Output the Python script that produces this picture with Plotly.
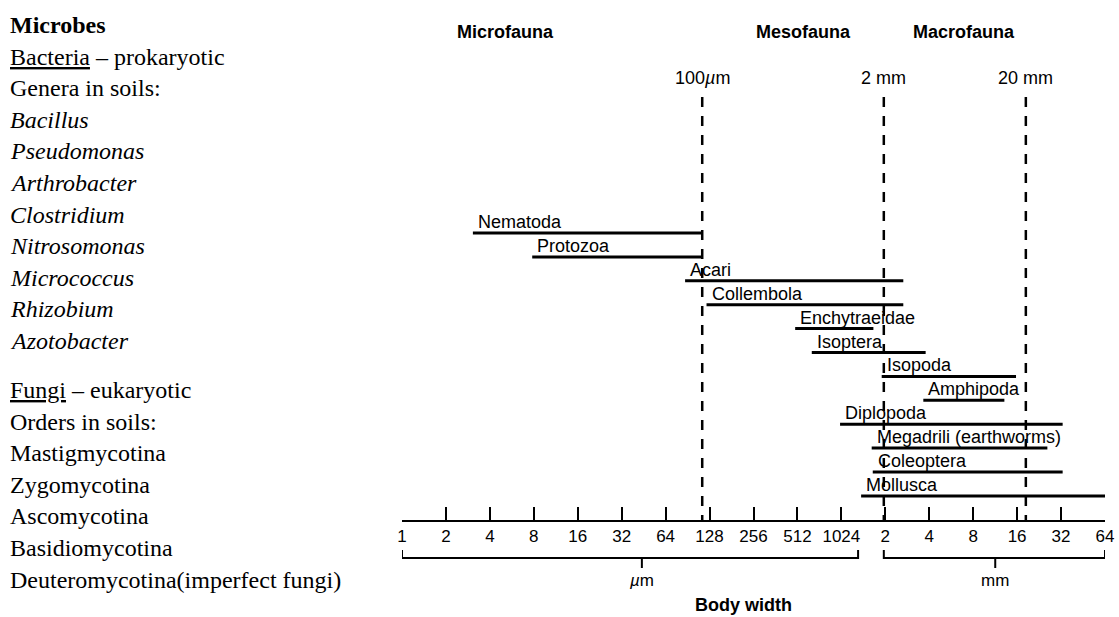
import numpy as np
import plotly.graph_objects as go

# body-width ranges of soil fauna (in µm)
groups = ['Nematoda', 'Protozoa', 'Acari', 'Collembola', 'Enchytraeidae', 'Isoptera',
          'Isopoda', 'Amphipoda', 'Diplopoda', 'Megadrili (earthworms)', 'Coleoptera', 'Mollusca']
width_min = [3.06, 7.8, 87, 122, 494, 642, 1935, 3730, 1003, 1652, 1680, 1398]
width_max = [115, 115, 2720, 2720, 1697, 3870, 16100, 13400, 33600, 26400, 33600, 68000]

# size-class boundaries and class names
boundary_um = [114, 2000, 18800]
boundary_text = ['100<i>µ</i>m', '2 mm', '20 mm']
zone_names = ['Microfauna', 'Mesofauna', 'Macrofauna']
zone_center_um = [5.1, 560, 7080]

# log2 axis ticks
tick_vals = [2 ** k for k in range(17)]
tick_text = ['1', '2', '4', '8', '16', '32', '64', '128', '256', '512', '1024',
             '2', '4', '8', '16', '32', '64']

# unit brackets under the axis: [start, end, middle tick]
unit_names = ['<i>µ</i>m', 'mm']
unit_start = [1, 2000]
unit_end = [1333, 65536]
unit_mid = [44, 11600]

# text column on the left
left_lines = ['<b>Microbes</b>', '<u>Bacteria</u> – prokaryotic', 'Genera in soils:',
              '<i>Bacillus</i>', '<i>Pseudomonas</i>', '<i>Arthrobacter</i>', '<i>Clostridium</i>',
              '<i>Nitrosomonas</i>', '<i>Micrococcus</i>', '<i>Rhizobium</i>', '<i>Azotobacter</i>',
              '<u>Fungi</u> – eukaryotic', 'Orders in soils:', 'Mastigmycotina', 'Zygomycotina',
              'Ascomycotina', 'Basidiomycotina', 'Deuteromycotina(imperfect fungi)']

W, H = 1119, 617
L, R = 402, 14
SANS = 'Liberation Sans, Arial, sans-serif'
SERIF = 'Liberation Serif, Times New Roman, serif'

# y axis in "row" units: row 0 = first bar, 23.9 px per row
ROW0, ROWPX = 233, 23.9
def prow(p):
    return (p - ROW0) / ROWPX

fig = go.Figure()

# bars
bx, by = [], []
for i in range(len(groups)):
    bx += [width_min[i], width_max[i], None]
    by += [i, i, None]
fig.add_trace(go.Scatter(x=bx, y=by, mode='lines', line=dict(color='black', width=3),
                         hoverinfo='skip'))

# dashed boundaries
dx, dy = [], []
for b in boundary_um:
    dx += [b, b, None]
    dy += [prow(97), prow(521), None]
fig.add_trace(go.Scatter(x=dx, y=dy, mode='lines',
                         line=dict(color='black', width=2.5, dash='10px,9px'), hoverinfo='skip'))

# unit brackets
ux, uy = [], []
for s, e, m in zip(unit_start, unit_end, unit_mid):
    ux += [s, s, e, e, None, m, m, None]
    uy += [prow(550), prow(558), prow(558), prow(550), None, prow(558), prow(568), None]
fig.add_trace(go.Scatter(x=ux, y=uy, mode='lines', line=dict(color='black', width=2),
                         hoverinfo='skip'))

ann = []
for i, g in enumerate(groups):
    ann.append(dict(x=np.log10(width_min[i]), y=i, text=g, xanchor='left', yanchor='middle',
                    xshift=3, yshift=11, showarrow=False, font=dict(family=SANS, size=18)))
for b, t in zip(boundary_um, boundary_text):
    ann.append(dict(x=np.log10(b), y=prow(78), text=t, xanchor='center', yanchor='middle',
                    showarrow=False, font=dict(family=SANS, size=18)))
for z, c in zip(zone_names, zone_center_um):
    ann.append(dict(x=np.log10(c), y=prow(32), text='<b>' + z + '</b>', xanchor='center',
                    yanchor='middle', showarrow=False, font=dict(family=SANS, size=18)))
for n, m in zip(unit_names, unit_mid):
    ann.append(dict(x=np.log10(m), y=prow(580), text=n, xanchor='center', yanchor='middle',
                    showarrow=False, font=dict(family=SANS, size=17)))
ann.append(dict(x=np.log10(220), y=prow(605), text='<b>Body width</b>', xanchor='center',
                yanchor='middle', showarrow=False, font=dict(family=SANS, size=18)))

# left text column
pw = W - L - R
for k, line in enumerate(left_lines):
    p = 25 + 31.6 * k if k <= 10 else 390 + 31.6 * (k - 11)
    ann.append(dict(xref='paper', yref='paper', x=(8 - L) / pw, y=(H - p) / H, text=line,
                    xanchor='left', yanchor='middle', showarrow=False,
                    font=dict(family=SERIF, size=24, color='black')))

fig.update_layout(
    width=W, height=H,
    margin=dict(l=L, r=R, t=0, b=0),
    paper_bgcolor='white', plot_bgcolor='white',
    showlegend=False,
    font=dict(color='black'),
    annotations=ann,
    xaxis=dict(type='log', range=[0, np.log10(65536)], tickmode='array',
               tickvals=tick_vals, ticktext=tick_text,
               ticks='inside', ticklen=13, tickwidth=2, tickcolor='black',
               showline=True, linewidth=2, linecolor='black',
               showgrid=False, zeroline=False,
               anchor='free', position=(H - 521) / H,
               tickfont=dict(family=SANS, size=17, color='black')),
    yaxis=dict(range=[prow(H), prow(0)], visible=False),
)

# page body has a default 8px margin; drop it so the figure sits at the corner
fig.write_html("out.html", config={'displayModeBar': False},
               post_script="document.body.style.margin='0';")
